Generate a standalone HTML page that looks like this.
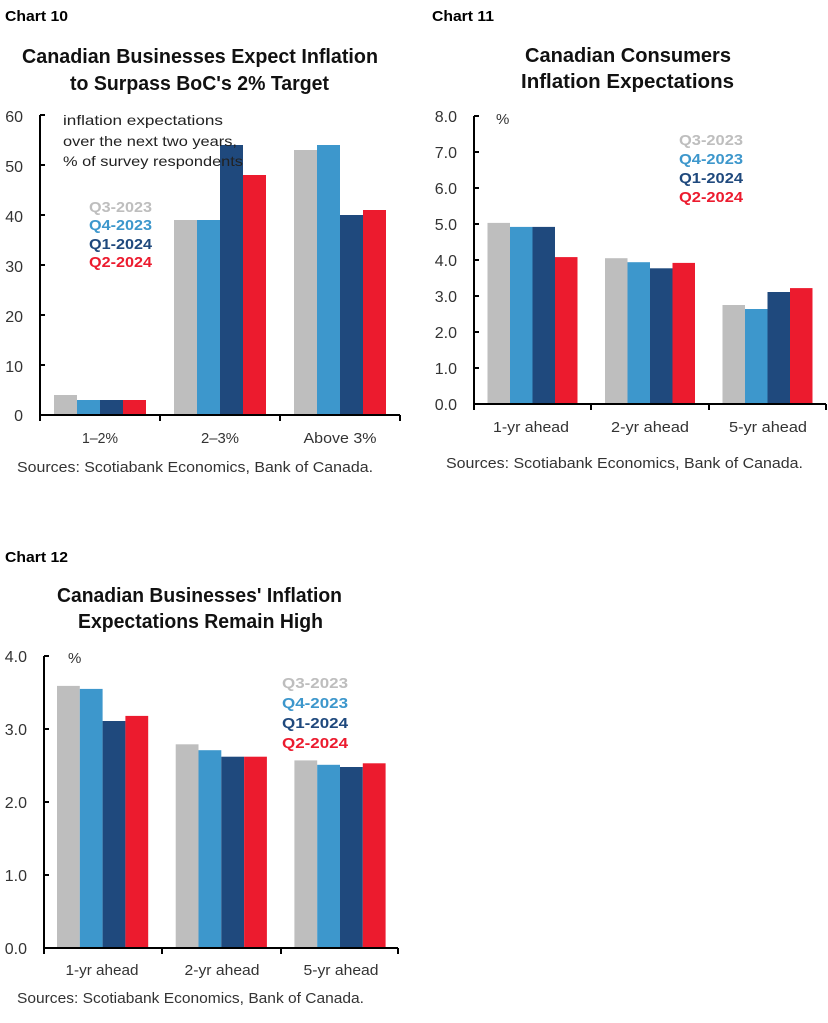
<!DOCTYPE html>
<html>
<head>
<meta charset="utf-8">
<style>
  html,body{margin:0;padding:0;background:#fff;}
  svg{display:block;}
  text{font-family:"Liberation Sans",sans-serif;}
  .b{font-weight:bold;}
  .tk{font-size:16px;fill:#333;text-anchor:end;}
  .xl{font-size:15px;fill:#333;text-anchor:middle;}
  .src{font-size:15px;fill:#333;}
  .ttl{font-size:20px;font-weight:bold;fill:#111;}
  .lab{font-size:15px;font-weight:bold;fill:#000;}
  .lg{font-size:15px;font-weight:bold;}
</style>
</head>
<body>
<svg width="828" height="1023" viewBox="0 0 828 1023" xmlns="http://www.w3.org/2000/svg">
<rect x="0" y="0" width="828" height="1023" fill="#fff"/>

<!-- ================= CHART 10 ================= -->
<text class="lab" x="5" y="21" textLength="63" lengthAdjust="spacingAndGlyphs">Chart 10</text>
<text class="ttl" x="22" y="63" textLength="356" lengthAdjust="spacingAndGlyphs">Canadian Businesses Expect Inflation</text>
<text class="ttl" x="70" y="90" textLength="259" lengthAdjust="spacingAndGlyphs">to Surpass BoC's 2% Target</text>

<!-- bars -->
<g>
  <!-- 1-2% -->
  <rect x="54" y="395" width="23" height="20" fill="#bebebe"/>
  <rect x="77" y="400" width="23" height="15" fill="#3d97cc"/>
  <rect x="100" y="400" width="23" height="15" fill="#1f497d"/>
  <rect x="123" y="400" width="23" height="15" fill="#ec1b2e"/>
  <!-- 2-3% -->
  <rect x="174" y="220" width="23" height="195" fill="#bebebe"/>
  <rect x="197" y="220" width="23" height="195" fill="#3d97cc"/>
  <rect x="220" y="145" width="23" height="270" fill="#1f497d"/>
  <rect x="243" y="175" width="23" height="240" fill="#ec1b2e"/>
  <!-- Above 3% -->
  <rect x="294" y="150" width="23" height="265" fill="#bebebe"/>
  <rect x="317" y="145" width="23" height="270" fill="#3d97cc"/>
  <rect x="340" y="215" width="23" height="200" fill="#1f497d"/>
  <rect x="363" y="210" width="23" height="205" fill="#ec1b2e"/>
</g>

<!-- annotation -->
<text x="63" y="125" font-size="14" fill="#222" textLength="160" lengthAdjust="spacingAndGlyphs">inflation expectations</text>
<text x="63" y="146" font-size="14" fill="#222" textLength="174" lengthAdjust="spacingAndGlyphs">over the next two years,</text>
<text x="63" y="166" font-size="14" fill="#222" textLength="180" lengthAdjust="spacingAndGlyphs">% of survey respondents</text>

<!-- legend -->
<text class="lg" x="89" y="212" fill="#bebebe" textLength="63" lengthAdjust="spacingAndGlyphs">Q3-2023</text>
<text class="lg" x="89" y="230" fill="#3d97cc" textLength="63" lengthAdjust="spacingAndGlyphs">Q4-2023</text>
<text class="lg" x="89" y="249" fill="#1f497d" textLength="63" lengthAdjust="spacingAndGlyphs">Q1-2024</text>
<text class="lg" x="89" y="267" fill="#ec1b2e" textLength="63" lengthAdjust="spacingAndGlyphs">Q2-2024</text>

<!-- axes -->
<g stroke="#000" stroke-width="2" fill="none">
  <line x1="40" y1="115" x2="40" y2="416"/>
  <line x1="39" y1="415" x2="400" y2="415"/>
  <line x1="40" y1="115" x2="45" y2="115"/>
  <line x1="40" y1="165" x2="45" y2="165"/>
  <line x1="40" y1="215" x2="45" y2="215"/>
  <line x1="40" y1="265" x2="45" y2="265"/>
  <line x1="40" y1="315" x2="45" y2="315"/>
  <line x1="40" y1="365" x2="45" y2="365"/>
  <line x1="40" y1="415" x2="40" y2="421"/>
  <line x1="160" y1="415" x2="160" y2="421"/>
  <line x1="280" y1="415" x2="280" y2="421"/>
  <line x1="400" y1="415" x2="400" y2="421"/>
</g>
<text class="tk" x="23" y="122">60</text>
<text class="tk" x="23" y="172">50</text>
<text class="tk" x="23" y="222">40</text>
<text class="tk" x="23" y="272">30</text>
<text class="tk" x="23" y="322">20</text>
<text class="tk" x="23" y="372">10</text>
<text class="tk" x="23" y="421">0</text>

<text class="xl" x="100" y="443" textLength="36" lengthAdjust="spacingAndGlyphs">1–2%</text>
<text class="xl" x="220" y="443" textLength="38" lengthAdjust="spacingAndGlyphs">2–3%</text>
<text class="xl" x="340" y="443" textLength="73" lengthAdjust="spacingAndGlyphs">Above 3%</text>
<text class="src" x="17" y="472" textLength="356" lengthAdjust="spacingAndGlyphs">Sources: Scotiabank Economics, Bank of Canada.</text>

<!-- ================= CHART 11 ================= -->
<text class="lab" x="432" y="21" textLength="62" lengthAdjust="spacingAndGlyphs">Chart 11</text>
<text class="ttl" x="525" y="62" textLength="206" lengthAdjust="spacingAndGlyphs">Canadian Consumers</text>
<text class="ttl" x="521" y="88" textLength="213" lengthAdjust="spacingAndGlyphs">Inflation Expectations</text>

<g>
  <!-- 1-yr -->
  <rect x="487.5" y="222.9" width="22.5" height="181.1" fill="#bebebe"/>
  <rect x="510" y="226.9" width="22.5" height="177.1" fill="#3d97cc"/>
  <rect x="532.5" y="226.9" width="22.5" height="177.1" fill="#1f497d"/>
  <rect x="555" y="257.1" width="22.5" height="146.9" fill="#ec1b2e"/>
  <!-- 2-yr -->
  <rect x="605" y="258.2" width="22.5" height="145.8" fill="#bebebe"/>
  <rect x="627.5" y="262.2" width="22.5" height="141.8" fill="#3d97cc"/>
  <rect x="650" y="268.3" width="22.5" height="135.7" fill="#1f497d"/>
  <rect x="672.5" y="262.9" width="22.5" height="141.1" fill="#ec1b2e"/>
  <!-- 5-yr -->
  <rect x="722.5" y="305" width="22.5" height="99" fill="#bebebe"/>
  <rect x="745" y="309" width="22.5" height="95" fill="#3d97cc"/>
  <rect x="767.5" y="292" width="22.5" height="112" fill="#1f497d"/>
  <rect x="790" y="288.1" width="22.5" height="115.9" fill="#ec1b2e"/>
</g>

<text x="496" y="124" font-size="15" fill="#333">%</text>
<text class="lg" x="679" y="145" fill="#bebebe" textLength="64" lengthAdjust="spacingAndGlyphs">Q3-2023</text>
<text class="lg" x="679" y="164" fill="#3d97cc" textLength="64" lengthAdjust="spacingAndGlyphs">Q4-2023</text>
<text class="lg" x="679" y="183" fill="#1f497d" textLength="64" lengthAdjust="spacingAndGlyphs">Q1-2024</text>
<text class="lg" x="679" y="202" fill="#ec1b2e" textLength="64" lengthAdjust="spacingAndGlyphs">Q2-2024</text>

<g stroke="#000" stroke-width="2" fill="none">
  <line x1="474" y1="116" x2="474" y2="405"/>
  <line x1="473" y1="404" x2="826" y2="404"/>
  <line x1="474" y1="116" x2="479" y2="116"/>
  <line x1="474" y1="152" x2="479" y2="152"/>
  <line x1="474" y1="188" x2="479" y2="188"/>
  <line x1="474" y1="224" x2="479" y2="224"/>
  <line x1="474" y1="260" x2="479" y2="260"/>
  <line x1="474" y1="296" x2="479" y2="296"/>
  <line x1="474" y1="332" x2="479" y2="332"/>
  <line x1="474" y1="368" x2="479" y2="368"/>
  <line x1="474" y1="404" x2="474" y2="410"/>
  <line x1="591" y1="404" x2="591" y2="410"/>
  <line x1="709" y1="404" x2="709" y2="410"/>
  <line x1="826" y1="404" x2="826" y2="410"/>
</g>
<text class="tk" x="457" y="122">8.0</text>
<text class="tk" x="457" y="158">7.0</text>
<text class="tk" x="457" y="194">6.0</text>
<text class="tk" x="457" y="230">5.0</text>
<text class="tk" x="457" y="266">4.0</text>
<text class="tk" x="457" y="302">3.0</text>
<text class="tk" x="457" y="338">2.0</text>
<text class="tk" x="457" y="374">1.0</text>
<text class="tk" x="457" y="410">0.0</text>

<text class="xl" x="531" y="432" textLength="76" lengthAdjust="spacingAndGlyphs">1-yr ahead</text>
<text class="xl" x="650" y="432" textLength="78" lengthAdjust="spacingAndGlyphs">2-yr ahead</text>
<text class="xl" x="768" y="432" textLength="78" lengthAdjust="spacingAndGlyphs">5-yr ahead</text>
<text class="src" x="446" y="468" textLength="357" lengthAdjust="spacingAndGlyphs">Sources: Scotiabank Economics, Bank of Canada.</text>

<!-- ================= CHART 12 ================= -->
<text class="lab" x="5" y="562" textLength="63" lengthAdjust="spacingAndGlyphs">Chart 12</text>
<text class="ttl" x="57" y="602" textLength="285" lengthAdjust="spacingAndGlyphs">Canadian Businesses' Inflation</text>
<text class="ttl" x="78" y="628" textLength="245" lengthAdjust="spacingAndGlyphs">Expectations Remain High</text>

<g>
  <!-- 1-yr -->
  <rect x="57" y="685.9" width="22.8" height="262.1" fill="#bebebe"/>
  <rect x="79.8" y="688.9" width="22.8" height="259.1" fill="#3d97cc"/>
  <rect x="102.6" y="721" width="22.8" height="227" fill="#1f497d"/>
  <rect x="125.4" y="715.9" width="22.8" height="232.1" fill="#ec1b2e"/>
  <!-- 2-yr -->
  <rect x="175.7" y="744.3" width="22.8" height="203.7" fill="#bebebe"/>
  <rect x="198.5" y="750.2" width="22.8" height="197.8" fill="#3d97cc"/>
  <rect x="221.3" y="756.7" width="22.8" height="191.3" fill="#1f497d"/>
  <rect x="244.1" y="756.7" width="22.8" height="191.3" fill="#ec1b2e"/>
  <!-- 5-yr -->
  <rect x="294.4" y="760.4" width="22.8" height="187.6" fill="#bebebe"/>
  <rect x="317.2" y="764.8" width="22.8" height="183.2" fill="#3d97cc"/>
  <rect x="340" y="767" width="22.8" height="181" fill="#1f497d"/>
  <rect x="362.8" y="763.3" width="22.8" height="184.7" fill="#ec1b2e"/>
</g>

<text x="68" y="663" font-size="15" fill="#333">%</text>
<text class="lg" x="282" y="688" fill="#bebebe" textLength="66" lengthAdjust="spacingAndGlyphs">Q3-2023</text>
<text class="lg" x="282" y="708" fill="#3d97cc" textLength="66" lengthAdjust="spacingAndGlyphs">Q4-2023</text>
<text class="lg" x="282" y="728" fill="#1f497d" textLength="66" lengthAdjust="spacingAndGlyphs">Q1-2024</text>
<text class="lg" x="282" y="748" fill="#ec1b2e" textLength="66" lengthAdjust="spacingAndGlyphs">Q2-2024</text>

<g stroke="#000" stroke-width="2" fill="none">
  <line x1="44" y1="656" x2="44" y2="949"/>
  <line x1="43" y1="948" x2="398" y2="948"/>
  <line x1="44" y1="656" x2="49" y2="656"/>
  <line x1="44" y1="729" x2="49" y2="729"/>
  <line x1="44" y1="802" x2="49" y2="802"/>
  <line x1="44" y1="875" x2="49" y2="875"/>
  <line x1="44" y1="948" x2="44" y2="954"/>
  <line x1="162" y1="948" x2="162" y2="954"/>
  <line x1="281" y1="948" x2="281" y2="954"/>
  <line x1="398" y1="948" x2="398" y2="954"/>
</g>
<text class="tk" x="27" y="662">4.0</text>
<text class="tk" x="27" y="735">3.0</text>
<text class="tk" x="27" y="808">2.0</text>
<text class="tk" x="27" y="881">1.0</text>
<text class="tk" x="27" y="954">0.0</text>

<text class="xl" x="102" y="975" textLength="73" lengthAdjust="spacingAndGlyphs">1-yr ahead</text>
<text class="xl" x="222" y="975" textLength="75" lengthAdjust="spacingAndGlyphs">2-yr ahead</text>
<text class="xl" x="341" y="975" textLength="75" lengthAdjust="spacingAndGlyphs">5-yr ahead</text>
<text class="src" x="17" y="1003" textLength="347" lengthAdjust="spacingAndGlyphs">Sources: Scotiabank Economics, Bank of Canada.</text>
</svg>
</body>
</html>
